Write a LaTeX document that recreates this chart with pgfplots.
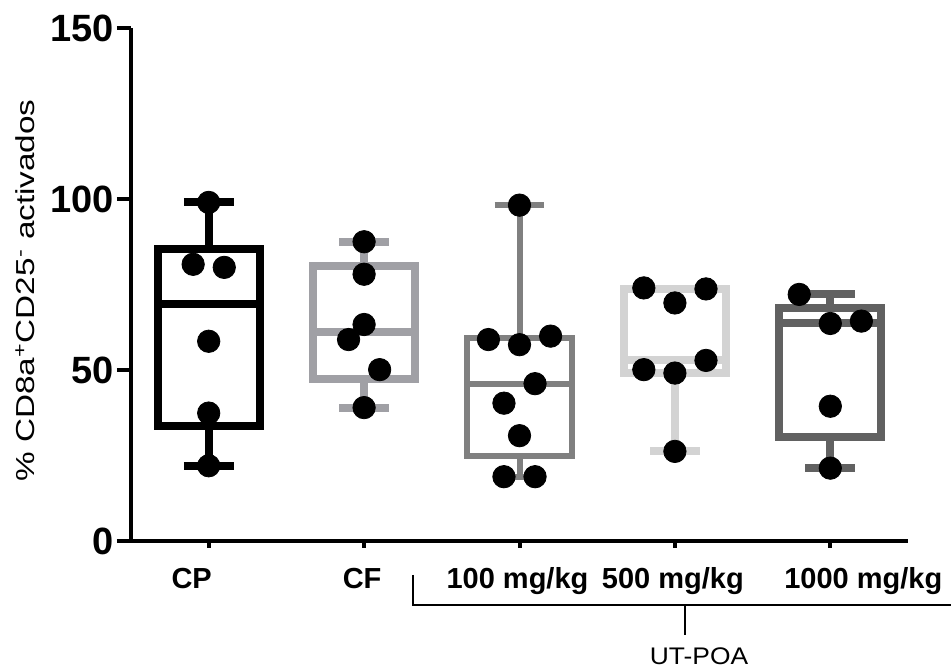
\documentclass[border=0pt]{standalone}
\usepackage{fontspec}
\setmainfont{Liberation Sans}
\newfontfamily\widefont[FakeStretch=1.28]{Liberation Sans}
\newfontfamily\poafont[FakeStretch=1.1]{Liberation Sans}
\usepackage{pgfplots}
\pgfplotsset{compat=1.18}

\definecolor{cfgray}{RGB}{160,160,165}
\definecolor{g100}{RGB}{128,128,128}
\definecolor{g500}{RGB}{211,211,211}
\definecolor{g1000}{RGB}{97,97,97}

\begin{document}
\begin{tikzpicture}
\useasboundingbox (-65.5pt,-65.5pt) rectangle (410pt,270.5pt);
\begin{axis}[
  name=ax, at={(0,0)}, anchor=south west,
  scale only axis, width=388.5pt, height=256.5pt,
  xmin=0.5, xmax=5.5, ymin=0, ymax=150,
  axis x line*=bottom, axis y line*=left,
  axis line style={line width=2.4pt},
  xtick={1,2,3,4,5}, xticklabels={},
  ytick={0,50,100,150}, yticklabels={0,50,100,150},
  yticklabel style={font=\bfseries\fontsize{19}{19}\selectfont, xshift=2pt},
  tick align=outside, major tick length=7pt,
  ytick style={line width=2.4pt, black},
  xtick style={line width=2pt, black, /pgfplots/major tick length=3.5pt},
  clip=false,
  unbounded coords=jump,
  every axis plot/.append style={line join=miter},
]
% boxes: min, Q1, median, Q3, max (box half width 0.328, cap half width 0.16)
% CP: 22 / 33.55 / 69.2 / 85.5 / 99
\addplot[black, line width=4pt] coordinates {
  (1,33.55) (1.328,33.55) (1.328,85.5) (0.672,85.5) (0.672,33.55) (1,33.55)
  (1,nan) (0.672,69.2) (1.328,69.2)
  (1,nan) (1,85.5) (1,99) (1,nan) (0.84,99) (1.16,99)
  (1,nan) (1,33.55) (1,22) (1,nan) (0.84,22) (1.16,22)
};
% CF: 39 / 47.25 / 61.15 / 80.4 / 87.5
\addplot[cfgray, line width=4pt] coordinates {
  (2,47.25) (2.328,47.25) (2.328,80.4) (1.672,80.4) (1.672,47.25) (2,47.25)
  (2,nan) (1.672,61.15) (2.328,61.15)
  (2,nan) (2,80.4) (2,87.5) (2,nan) (1.84,87.5) (2.16,87.5)
  (2,nan) (2,47.25) (2,39) (2,nan) (1.84,39) (2.16,39)
};
% 100 mg/kg: 18.8 / 24.8 / 46 / 59.4 / 98.2
\addplot[g100, line width=3pt] coordinates {
  (3,24.8) (3.335,24.8) (3.335,59.4) (2.665,59.4) (2.665,24.8) (3,24.8)
  (3,nan) (2.665,46) (3.335,46)
  (3,nan) (3,59.4) (3,98.2) (3,nan) (2.84,98.2) (3.16,98.2)
  (3,nan) (3,24.8) (3,18.8) (3,nan) (2.84,18.8) (3.16,18.8)
};
% 500 mg/kg: 26.2 / 49.1 / 52.8 / 73.7 / 74
\addplot[g500, line width=4pt] coordinates {
  (4,49.1) (4.328,49.1) (4.328,73.7) (3.672,73.7) (3.672,49.1) (4,49.1)
  (4,nan) (3.672,52.8) (4.328,52.8)
  (4,nan) (4,49.1) (4,26.2) (4,nan) (3.84,26.2) (4.16,26.2)
};
% 1000 mg/kg: 21.3 / 30.35 / 63.6 / 68.2 / 72.1
\addplot[g1000, line width=4pt] coordinates {
  (5,30.35) (5.328,30.35) (5.328,68.2) (4.672,68.2) (4.672,30.35) (5,30.35)
  (5,nan) (4.672,63.6) (5.328,63.6)
  (5,nan) (5,68.2) (5,72.1) (5,nan) (4.84,72.1) (5.16,72.1)
  (5,nan) (5,30.35) (5,21.3) (5,nan) (4.84,21.3) (5.16,21.3)
};

% individual values
\addplot[only marks, mark=*, mark size=5.6pt, black] coordinates {
  (1,99) (0.9,80.9) (1.1,80.0) (1,58.4) (1,37.4) (1,22)
};
\addplot[only marks, mark=*, mark size=5.6pt, black] coordinates {
  (2,87.5) (2,78) (2,63.3) (1.9,58.9) (2.1,50.1) (2,39)
};
\addplot[only marks, mark=*, mark size=5.6pt, black] coordinates {
  (3,98.2) (2.8,58.9) (3,57.4) (3.2,59.9) (3.1,46.0) (2.9,40.3) (3,30.8) (2.9,18.8) (3.1,18.8)
};
\addplot[only marks, mark=*, mark size=5.6pt, black] coordinates {
  (3.8,74.0) (4.2,73.7) (4,69.6) (3.8,50.1) (4,49.1) (4.2,52.8) (4,26.2)
};
\addplot[only marks, mark=*, mark size=5.6pt, black] coordinates {
  (4.8,72.1) (5,63.6) (5.2,64.3) (5,39.4) (5,21.3)
};

% category labels
\node[anchor=base, font=\bfseries\fontsize{14.5}{14.5}\selectfont] at ([xshift=-8.5pt,yshift=-24pt]axis cs:1,0) {CP};
\node[anchor=base, font=\bfseries\fontsize{14.5}{14.5}\selectfont] at ([xshift=-1pt,yshift=-24pt]axis cs:2,0) {CF};
\node[anchor=base, font=\bfseries\fontsize{14.5}{14.5}\selectfont] at ([xshift=-1pt,yshift=-24pt]axis cs:3,0) {100 mg/kg};
\node[anchor=base, font=\bfseries\fontsize{14.5}{14.5}\selectfont] at ([xshift=-1pt,yshift=-24pt]axis cs:4,0) {500 mg/kg};
\node[anchor=base, font=\bfseries\fontsize{14.5}{14.5}\selectfont] at ([xshift=16.5pt,yshift=-24pt]axis cs:5,0) {1000 mg/kg};
\end{axis}

% group bracket
\draw[line width=1.2pt] (141pt,-17pt) -- (141pt,-32pt) -- (410pt,-32pt);
\draw[line width=1.2pt] (277pt,-32pt) -- (277pt,-47pt);
\node[anchor=base, font=\poafont\fontsize{12}{12}\selectfont] at (284pt,-62pt) {UT-POA};

\node[rotate=90, font=\widefont\fontsize{13}{13}\selectfont] at ([xshift=-53pt,yshift=-3pt]ax.west)
  {\% CD8a\textsuperscript{+}CD25\textsuperscript{-} activados};
\end{tikzpicture}
\end{document}
